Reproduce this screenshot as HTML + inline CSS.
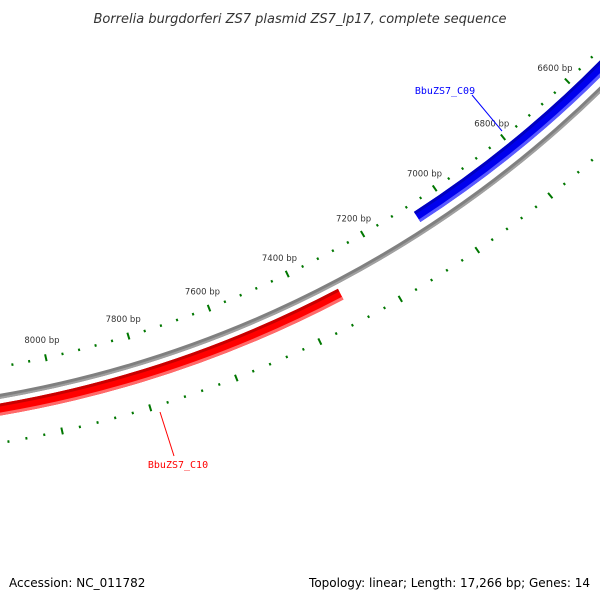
<!DOCTYPE html>
<html><head><meta charset="utf-8"><style>
body{margin:0;background:#fff;}
svg{display:block;font-family:"DejaVu Sans","Liberation Sans",sans-serif;}
</style></head><body>
<svg id="map" width="600" height="600" viewBox="0 0 600 600">
<text x="300" y="23" text-anchor="middle" font-size="13" font-style="italic" fill="#333">Borrelia burgdorferi ZS7 plasmid ZS7_lp17, complete sequence</text>
<g id="arcs"></g>
<g id="ticks"></g>
<text x="9" y="587" font-size="12" fill="#000">Accession: NC_011782</text>
<text x="590" y="587" text-anchor="end" font-size="12" fill="#000">Topology: linear; Length: 17,266 bp; Genes: 14</text>
</svg>
<script>
const tickLabels = [6600, 6800, 7000, 7200, 7400, 7600, 7800, 8000];
const geneNames = ["BbuZS7_C09", "BbuZS7_C10"];
const geneStarts = [6200, 7311];
const geneEnds = [7071, 8600];
const geneStrands = [1, -1];

const cx = -194, cy = -724;
const A0 = 46.6, K = 0.02207;
function ang(bp){ return (A0 + (bp - 6600) * K) * Math.PI / 180; }
function pt(bp, r){ const a = ang(bp); return [cx + r*Math.cos(a), cy + r*Math.sin(a)]; }
function arc(b1, b2, r){
  const p1 = pt(b1, r), p2 = pt(b2, r);
  return `M${p1[0].toFixed(2)},${p1[1].toFixed(2)} A${r},${r} 0 0 1 ${p2[0].toFixed(2)},${p2[1].toFixed(2)}`;
}
const NS = "http://www.w3.org/2000/svg";
const arcs = document.getElementById('arcs');
const ticks = document.getElementById('ticks');
function path(parent, d, color, w, cap){
  const p = document.createElementNS(NS, 'path');
  p.setAttribute('d', d); p.setAttribute('fill', 'none');
  p.setAttribute('stroke', color); p.setAttribute('stroke-width', w);
  p.setAttribute('stroke-linecap', cap || 'butt');
  parent.appendChild(p); return p;
}
// backbone
const bb = path(arcs, arc(5800, 8800, 1137), '#808080', 5);


path(arcs, arc(5800, 8800, 1138.5), '#a0a0a0', 2);
// genes
for (let i = 0; i < geneNames.length; i++) {
  const fwd = geneStrands[i] > 0;
  const r = fwd ? 1122 : 1150;
  const g = document.createElementNS(NS, 'g');
  
  
  arcs.appendChild(g);
  path(g, arc(geneStarts[i], geneEnds[i], r), fwd ? '#0000ee' : '#ff0000', 12);
  path(g, arc(geneStarts[i], geneEnds[i], r - 4.5), fwd ? '#0000c0' : '#c80000', 3);
  path(g, arc(geneStarts[i], geneEnds[i], r + 4.5), fwd ? '#5a5aff' : '#ff6a6a', 3);
}
// ticks
for (let bp = 6200; bp <= 8600; bp += 40) {
  const major = bp % 200 === 0;
  for (const base of [1108, 1183]) {
    const len = major ? 7 : 2.5;
    const a = pt(bp, base - len/2), b = pt(bp, base + len/2);
    const l = document.createElementNS(NS, 'line');
    l.setAttribute('x1', a[0]); l.setAttribute('y1', a[1]);
    l.setAttribute('x2', b[0]); l.setAttribute('y2', b[1]);
    l.setAttribute('stroke', '#007700'); l.setAttribute('stroke-width', major ? 2 : 2);
    
    
    ticks.appendChild(l);
  }
}
tickLabels.forEach(bp => {
  const p = pt(bp, 1090);
  const t = document.createElementNS(NS, 'text');
  t.setAttribute('x', p[0]); t.setAttribute('y', p[1] + 3);
  t.setAttribute('text-anchor', 'middle'); t.setAttribute('font-size', '8.5');
  t.setAttribute('fill', '#333');
  t.textContent = bp + ' bp';
  
  
  ticks.appendChild(t);
});
// gene labels
const labelPos = [[445, 94, 472, 95, 502, 131, '#0000ff'], [178, 468, 174, 456, 160, 412, '#ff0000']];
geneNames.forEach((n, i) => {
  const L = labelPos[i];
  const ln = document.createElementNS(NS, 'line');
  ln.setAttribute('x1', L[2]); ln.setAttribute('y1', L[3]);
  ln.setAttribute('x2', L[4]); ln.setAttribute('y2', L[5]);
  ln.setAttribute('stroke', L[6]); ln.setAttribute('stroke-width', 1);
  
  
  ticks.appendChild(ln);
  const t = document.createElementNS(NS, 'text');
  t.setAttribute('x', L[0]); t.setAttribute('y', L[1]);
  t.setAttribute('text-anchor', 'middle'); t.setAttribute('font-size', '10');
  t.setAttribute('font-family', '"DejaVu Sans Mono","Liberation Mono",monospace');
  t.setAttribute('fill', L[6]);
  t.textContent = n;
  
  
  ticks.appendChild(t);
});
</script>
</body></html>
